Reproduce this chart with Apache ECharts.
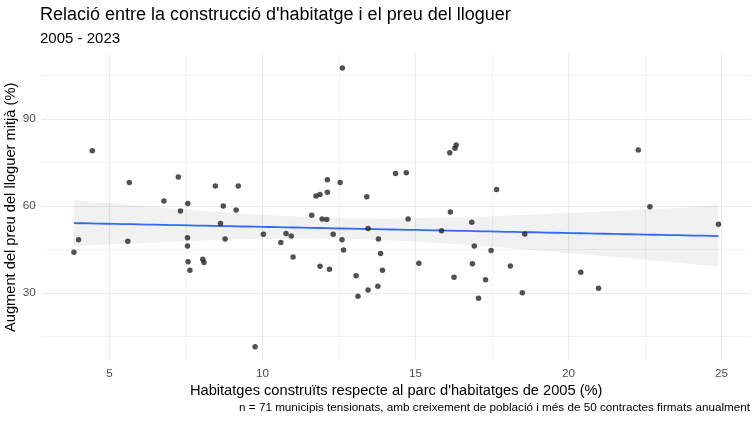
<!DOCTYPE html>
<html><head><meta charset="utf-8">
<script src="https://cdn.jsdelivr.net/npm/echarts@6/dist/echarts.min.js"></script>
<style>html,body{margin:0;padding:0;background:#fff}#c{width:754px;height:424px}</style>
</head><body><div id="c"></div>
<script>
// Habitatges construïts respecte al parc de 2005 (%)
const housingBuilt = [
  3.84, 3.99, 4.44, 5.60, 5.65, 6.78, 7.25, 7.32, 7.55, 7.55,
  7.56, 7.57, 7.63, 8.05, 8.09, 8.46, 8.63, 8.72, 8.78, 9.14,
  9.21, 9.76, 10.03, 10.60, 10.77, 10.94, 11.00, 11.61, 11.75, 11.88,
  11.88, 11.95, 12.10, 12.12, 12.12, 12.19, 12.31, 12.54, 12.60, 12.61,
  12.65, 13.06, 13.12, 13.41, 13.45, 13.45, 13.77, 13.79, 13.86, 13.92,
  14.35, 14.70, 14.76, 15.11, 15.85, 16.12, 16.14, 16.26, 16.29, 16.33,
  16.84, 16.86, 16.92, 17.06, 17.29, 17.47, 17.65, 18.10, 18.49, 18.57,
  20.40, 20.98, 22.28, 22.66, 24.90
];
// Augment del preu del lloguer mitjà (%)
const rentIncrease = [
  44.0, 48.3, 79.0, 47.8, 68.1, 61.7, 70.0, 58.2, 49.0, 46.2,
  60.8, 40.7, 37.8, 41.6, 40.5, 66.9, 53.9, 60.0, 48.6, 58.6,
  66.9, 11.4, 50.2, 47.4, 50.5, 49.6, 42.4, 56.8, 63.4, 63.9,
  39.2, 55.5, 55.3, 69.0, 64.7, 38.1, 50.2, 68.1, 48.3, 107.6,
  44.8, 35.9, 28.8, 63.2, 52.2, 31.0, 32.3, 48.6, 43.6, 37.8,
  71.2, 71.4, 55.5, 40.2, 51.4, 78.3, 57.9, 35.4, 79.9, 81.0,
  54.4, 40.0, 46.2, 28.1, 34.5, 44.6, 65.7, 39.3, 30.0, 50.3,
  37.1, 31.6, 79.3, 59.7, 53.7
];
const xTicks = [5, 10, 15, 20, 25];
const xMinorTicks = [7.5, 12.5, 17.5, 22.5];
const yTicks = [30, 60, 90];
const yMinorTicks = [15, 45, 75, 105];

const titleText = "Relació entre la construcció d'habitatge i el preu del lloguer";
const subtitleText = "2005 - 2023";
const xTitle = "Habitatges construïts respecte al parc d'habitatges de 2005 (%)";
const yTitle = "Augment del preu del lloguer mitjà (%)";
const captionText = "n = 71 municipis tensionats, amb creixement de població i més de 50 contractes firmats anualment";

// linear model + 95% confidence band (like geom_smooth(method = "lm"))
const n = housingBuilt.length;
const mx = housingBuilt.reduce((a, b) => a + b, 0) / n;
const my = rentIncrease.reduce((a, b) => a + b, 0) / n;
let sxx = 0, sxy = 0;
for (let i = 0; i < n; i++) { sxx += (housingBuilt[i] - mx) ** 2; sxy += (housingBuilt[i] - mx) * (rentIncrease[i] - my); }
const slope = sxy / sxx, icpt = my - slope * mx;
let sse = 0;
for (let i = 0; i < n; i++) { sse += (rentIncrease[i] - icpt - slope * housingBuilt[i]) ** 2; }
const sRes = Math.sqrt(sse / (n - 2));
const tq = 1.993;
const xMinD = Math.min(...housingBuilt), xMaxD = Math.max(...housingBuilt);
const yMinD = Math.min(...rentIncrease), yMaxD = Math.max(...rentIncrease);
const fitLine = [], bandLow = [], bandHigh = [];
for (let k = 0; k < 80; k++) {
  const x = xMinD + (xMaxD - xMinD) * k / 79;
  const f = icpt + slope * x;
  const se = sRes * Math.sqrt(1 / n + (x - mx) ** 2 / sxx);
  fitLine.push([x, f]);
  bandLow.push([x, f - tq * se]);
  bandHigh.push([x, f + tq * se]);
}
const xr = xMaxD - xMinD, yr = yMaxD - yMinD;

const FONT = "'Liberation Sans', Arial, sans-serif";
const gridCol = '#ebebeb';
const ml = (vals, key, w) => vals.map(v => ({ [key]: v, lineStyle: { width: w, color: gridCol, type: 'solid' } }));

const chart = echarts.init(document.getElementById('c'), null, { renderer: 'canvas' });
chart.setOption({
  animation: false,
  backgroundColor: '#ffffff',
  textStyle: { fontFamily: FONT },
  title: [
    { text: titleText, left: 40, top: 6, padding: 0, textStyle: { fontFamily: FONT, fontSize: 18, fontWeight: 'normal', color: '#000' } },
    { text: subtitleText, left: 40, top: 31, padding: 0, textStyle: { fontFamily: FONT, fontSize: 15, fontWeight: 'normal', color: '#000' } },
    { text: captionText, right: 4, top: 402, padding: 0, textStyle: { fontFamily: FONT, fontSize: 11.7, fontWeight: 'normal', color: '#000' } }
  ],
  grid: { left: 41.7, right: 3.3, top: 54, bottom: 63.3, containLabel: false, outerBoundsMode: 'none' },
  xAxis: {
    type: 'value', min: xMinD - 0.05 * xr, max: xMaxD + 0.05 * xr,
    axisLine: { show: false }, axisTick: { show: false }, splitLine: { show: false },
    axisLabel: { customValues: xTicks, color: '#4d4d4d', fontSize: 11.7, margin: 7, fontFamily: FONT },
    name: xTitle, nameLocation: 'middle', nameGap: 23, nameMoveOverlap: false,
    nameTextStyle: { fontFamily: FONT, fontSize: 14.67, color: '#000' }
  },
  yAxis: {
    type: 'value', min: yMinD - 0.05 * yr, max: yMaxD + 0.05 * yr,
    axisLine: { show: false }, axisTick: { show: false }, splitLine: { show: false },
    axisLabel: { customValues: yTicks, color: '#4d4d4d', fontSize: 11.7, margin: 6, fontFamily: FONT },
    name: yTitle, nameLocation: 'middle', nameGap: 23, nameMoveOverlap: false,
    nameTextStyle: { fontFamily: FONT, fontSize: 14.67, color: '#000' }
  },
  series: [
    {
      type: 'line', data: [], silent: true, z: 0,
      markLine: {
        silent: true, z: 0, symbol: ['none', 'none'], label: { show: false },
        data: [].concat(ml(xMinorTicks, 'xAxis', 0.6), ml(yMinorTicks, 'yAxis', 0.6),
                        ml(xTicks, 'xAxis', 1.2), ml(yTicks, 'yAxis', 1.2))
      }
    },
    {
      type: 'custom', silent: true, z: 1, data: [[0]],
      renderItem: function (params, api) {
        const pts = bandHigh.map(p => api.coord(p)).concat(bandLow.slice().reverse().map(p => api.coord(p)));
        return { type: 'polygon', shape: { points: pts }, style: { fill: 'rgba(0,0,0,0.055)' } };
      }
    },
    { type: 'line', data: fitLine, showSymbol: false, silent: true, z: 2,
      lineStyle: { color: '#3366FF', width: 1.8 } },
    { type: 'scatter', data: housingBuilt.map((x, i) => [x, rentIncrease[i]]), z: 10,
      symbolSize: 5.5, itemStyle: { color: '#262626' } }
  ]
});
</script>
</body></html>
